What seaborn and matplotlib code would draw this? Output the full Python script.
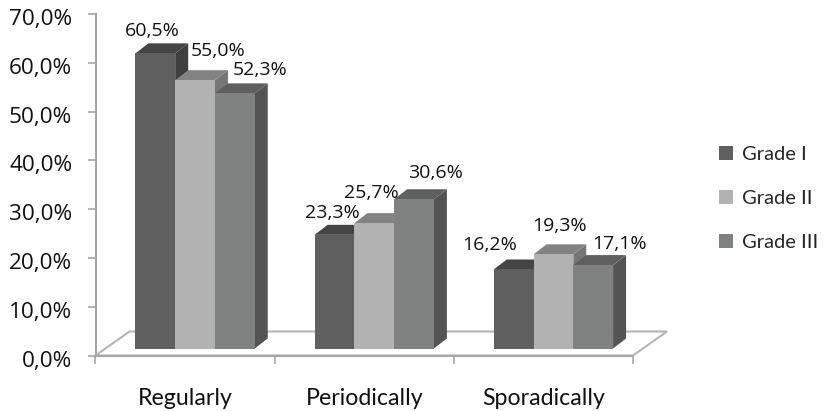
"""Grade I-III attendance chart, pseudo-3D bars on top of a seaborn barplot."""

import pandas as pd
import matplotlib
matplotlib.use("Agg")
import matplotlib.pyplot as plt
import matplotlib.transforms as mtrans
import seaborn as sns
from matplotlib.patches import Polygon

categories = ["Regularly", "Periodically", "Sporadically"]
grades = ["Grade I", "Grade II", "Grade III"]
grade_1 = [60.5, 23.3, 16.2]
grade_2 = [55.0, 25.7, 19.3]
grade_3 = [52.3, 30.6, 17.1]
y_ticks = [0, 10, 20, 30, 40, 50, 60, 70]

# label nudges in pixels from the front-top centre of each bar
label_nudge = {
    "Grade I": [(-3, 22), (-2, 22), (-24, 24)],
    "Grade II": [(23, 29), (-3, 30), (6, 28)],
    "Grade III": [(25, 23), (21, 26), (26, 21)],
}

front_colors = {"Grade I": "#5f5f5f", "Grade II": "#b2b2b2", "Grade III": "#808281"}
top_colors = {"Grade I": "#454545", "Grade II": "#828282", "Grade III": "#5f5f5f"}
side_colors = {"Grade I": "#3f3f3f", "Grade II": "#767676", "Grade III": "#545454"}
AXIS_GREY = "#a6a6a6"

rows = []
for grade, values in zip(grades, [grade_1, grade_2, grade_3]):
    for cat, val in zip(categories, values):
        rows.append({"category": cat, "grade": grade, "value": val})
df = pd.DataFrame(rows)

sns.set_theme(style="white")
plt.rcParams["font.family"] = ["Open Sans", "DejaVu Sans"]

fig = plt.figure(figsize=(8.25, 4.11), dpi=100)
ax = fig.add_axes([95.5 / 825, (411 - 355.5) / 411, 537.5 / 825, 341.5 / 411])

sns.barplot(
    data=df, x="category", y="value", hue="grade", order=categories,
    hue_order=grades, palette=front_colors, width=0.666, saturation=1,
    linewidth=0, ax=ax, zorder=3,
)
ax.set_xlim(-0.5, 2.5)
ax.set_ylim(0, 70)

# pixel sizes of the fake depth, turned into data units
px_x = 3 / 537.5
px_y = 70 / 341.5
depth_x = 13 * px_x
depth_y = 10 * px_y
lift = 7 * px_y
shift = 10 * px_x

# floor
floor = Polygon(
    [(-0.5, 0), (-0.5 + 34 * px_x, 24 * px_y), (2.5 + 34 * px_x, 24 * px_y), (2.5, 0)],
    closed=True, facecolor="white", edgecolor="#b5b5b5", linewidth=1.5,
    clip_on=False, zorder=1,
)
ax.add_patch(floor)

# move fronts up off the axis line and draw top + side faces from the bars
for grade, container in zip(grades, ax.containers):
    for i, bar in enumerate(container):
        bar.set_x(bar.get_x() + shift)
        bar.set_y(lift)
        x0, x1 = bar.get_x(), bar.get_x() + bar.get_width()
        y0, y1 = lift, lift + bar.get_height()
        ax.add_patch(Polygon(
            [(x0, y1), (x1, y1), (x1 + depth_x, y1 + depth_y), (x0 + depth_x, y1 + depth_y)],
            facecolor=top_colors[grade], edgecolor="none", clip_on=False, zorder=2.5,
        ))
        ax.add_patch(Polygon(
            [(x1, y0), (x1 + depth_x, y0 + depth_y), (x1 + depth_x, y1 + depth_y), (x1, y1)],
            facecolor=side_colors[grade], edgecolor="none", clip_on=False, zorder=2,
        ))
        nx, ny = label_nudge[grade][i]
        ax.annotate(
            f"{bar.get_height():.1f}%".replace(".", ","),
            xy=((x0 + x1) / 2, y1), xytext=(nx * 0.72, ny * 0.72),
            textcoords="offset points", ha="center", va="center",
            fontsize=14, color="#111111", zorder=5,
        )

# axes styling
sns.despine(ax=ax)
for side in ["left", "bottom"]:
    ax.spines[side].set_color(AXIS_GREY)
    ax.spines[side].set_linewidth(1.5)

ax.set_yticks(y_ticks)
ax.set_yticklabels([f"{t:.1f}%".replace(".", ",") for t in y_ticks])
ax.tick_params(axis="y", left=True, length=5.8, width=1.2, color=AXIS_GREY,
               labelsize=16.2, labelcolor="#111111", pad=11)
# tick labels sit a little under their ticks in the original
nudge_down = mtrans.ScaledTranslation(0, -3 / 100, fig.dpi_scale_trans)
for label in ax.get_yticklabels():
    label.set_transform(label.get_transform() + nudge_down)

ax.set_xticks([-0.5, 0.5, 1.5, 2.5])
ax.set_xticklabels([])
ax.set_xticks([0, 1, 2], labels=categories, minor=True, fontfamily="Lato")
ax.tick_params(axis="x", which="major", bottom=True, length=6, width=1.2, color=AXIS_GREY)
ax.tick_params(axis="x", which="minor", bottom=False, length=0, labelsize=16.7,
               labelcolor="#111111", pad=23.5)
ax.set_xlabel("")
ax.set_ylabel("")

sns.move_legend(
    ax, "upper left", bbox_to_anchor=(701 / 825, (411 - 128) / 411),
    bbox_transform=fig.transFigure, title=None, frameon=False,
    handlelength=0.7, handleheight=0.7, handletextpad=0.42, labelspacing=1.33,
    prop={"family": "Lato", "size": 14.5},
)

fig.savefig("out.png", dpi=100)
plt.close(fig)
